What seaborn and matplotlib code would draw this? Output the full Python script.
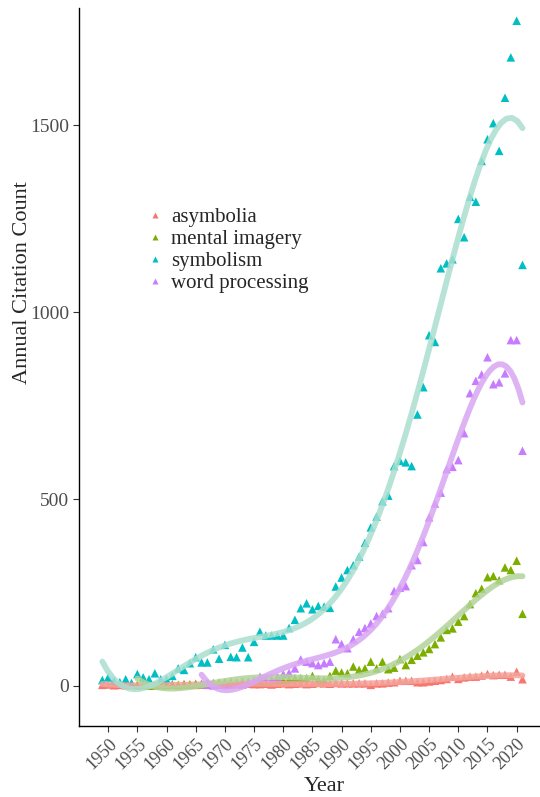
import numpy as np
import pandas as pd
import matplotlib
matplotlib.use("Agg")
import matplotlib.pyplot as plt
import seaborn as sns

# ---------------- data ----------------
terms = ["asymbolia", "mental imagery", "symbolism", "word processing"]

years_asymbolia = list(range(1949, 2022))
asymbolia = [3, 4, 2, 3, 2, 3, 2, 3, 2, 2, 3, 3, 4, 2, 3, 4, 3, 4, 5, 3,
             4, 6, 4, 5, 4, 6, 5, 5, 6, 4, 6, 7, 5, 6, 7, 5, 6, 8, 7, 6,
             8, 7, 7, 7, 7, 7, 3, 7, 7, 9, 10, 14, 14, 14, 10, 10, 12, 14,
             16, 19, 25, 19, 23, 25, 25, 28, 32, 29, 30, 30, 25, 38, 18]

years_mental = list(range(1955, 2022))
mental_imagery = [2, 3, 1, 2, 3, 2, 4, 3, 5, 4, 6, 5, 7, 8, 9, 10, 11, 10,
                  12, 11, 13, 12, 14, 15, 16, 16, 18, 21, 21, 21, 27, 18, 16,
                  27, 41, 36, 34, 52, 43, 47, 65, 47, 65, 45, 49, 72, 56, 70,
                  81, 90, 99, 112, 130, 150, 154, 172, 187, 219, 248, 260,
                  291, 294, 283, 317, 310, 335, 193]

years_symbolism = list(range(1949, 2022))
symbolism = [16, 23, 14, 10, 18, 8, 32, 23, 18, 34, 18, 18, 27, 47, 43, 61,
             77, 63, 63, 98, 73, 110, 78, 77, 103, 77, 118, 145, 135, 135,
             135, 135, 155, 177, 208, 221, 205, 214, 212, 209, 266, 290,
             310, 323, 346, 383, 424, 453, 494, 509, 588, 602, 598, 588,
             726, 799, 938, 920, 1117, 1130, 1141, 1249, 1200, 1308, 1295,
             1404, 1462, 1505, 1431, 1573, 1681, 1779, 1126]

years_word = list(range(1966, 2022))
word_processing = [6, 3, 2, 4, 3, 5, 7, 9, 12, 15, 25, 18, 18, 25, 32, 35,
                   47, 71, 65, 61, 56, 61, 65, 125, 112, 101, 125, 145, 155,
                   167, 187, 193, 208, 254, 263, 267, 323, 337, 385, 451,
                   488, 517, 580, 586, 604, 676, 783, 816, 833, 879, 807,
                   812, 836, 925, 925, 629]

x_ticks = list(range(1950, 2021, 5))
y_ticks = [0, 500, 1000, 1500]

point_colors = ["#F8766D", "#7CAE00", "#00BFC4", "#C77CFF"]
line_colors = ["#F4A49C", "#B2D39A", "#A9DFCF", "#D9A6F2"]
poly_degree = 5  # smooth: y ~ poly(x, 5)

# ---------------- frame ----------------
series = {
    "asymbolia": (years_asymbolia, asymbolia),
    "mental imagery": (years_mental, mental_imagery),
    "symbolism": (years_symbolism, symbolism),
    "word processing": (years_word, word_processing),
}
df = pd.concat(
    [pd.DataFrame({"Year": ys, "Count": vs, "Term": t}) for t, (ys, vs) in series.items()],
    ignore_index=True,
)

fits = []
for t, (ys, vs) in series.items():
    p = np.polynomial.Polynomial.fit(ys, vs, poly_degree)
    xx = np.linspace(min(ys), max(ys), 80)
    fits.append(pd.DataFrame({"Year": xx, "Count": p(xx), "Term": t}))
fit_df = pd.concat(fits, ignore_index=True)

sns.set_theme(style="white")
plt.rcParams["font.family"] = ["Liberation Serif", "DejaVu Serif"]

fig = plt.figure(figsize=(5.40, 7.97), dpi=100)
ax = fig.add_axes([79 / 540, 71 / 797, 461 / 540, 718 / 797])

pal = dict(zip(terms, point_colors))
lpal = dict(zip(terms, line_colors))

sns.scatterplot(data=df, x="Year", y="Count", hue="Term", hue_order=terms,
                palette=pal, marker="^", s=38, edgecolor="none", ax=ax,
                zorder=2, legend=True)
sns.lineplot(data=fit_df, x="Year", y="Count", hue="Term", hue_order=terms,
             palette=lpal, linewidth=4.2, alpha=0.85, ax=ax, legend=False,
             zorder=3)

ax.set_xlim(1945.0, 2024.0)
ax.set_ylim(-107, 1813)
ax.set_xticks(x_ticks)
ax.set_xticklabels([str(v) for v in x_ticks], rotation=45, ha="right",
                   rotation_mode="anchor", fontsize=13, color="#4D4D4D")
ax.set_yticks(y_ticks)
ax.set_yticklabels([str(v) for v in y_ticks], fontsize=14, color="#4D4D4D")
ax.tick_params(axis="both", which="both", length=4, width=0.8, color="#333333",
               bottom=True, left=True, pad=3)
ax.set_xlabel("Year", fontsize=16, va="baseline")
ax.xaxis.set_label_coords((324 - 79) / 461, (726 - 791) / 718)
ax.set_ylabel("Annual Citation Count", fontsize=16)
ax.yaxis.set_label_coords((32 - 79) / 461, (726 - 283) / 718)

for side in ["top", "right"]:
    ax.spines[side].set_visible(False)
for side in ["left", "bottom"]:
    ax.spines[side].set_color("black")
    ax.spines[side].set_linewidth(1.0)
ax.grid(False)

leg = ax.legend(title=None, frameon=False, fontsize=15, loc="upper left",
                bbox_to_anchor=(0.1295, 0.734), handletextpad=0.35,
                handlelength=0.8, labelspacing=0.12, markerscale=0.7,
                borderaxespad=0)

fig.savefig("out.png", dpi=100)
